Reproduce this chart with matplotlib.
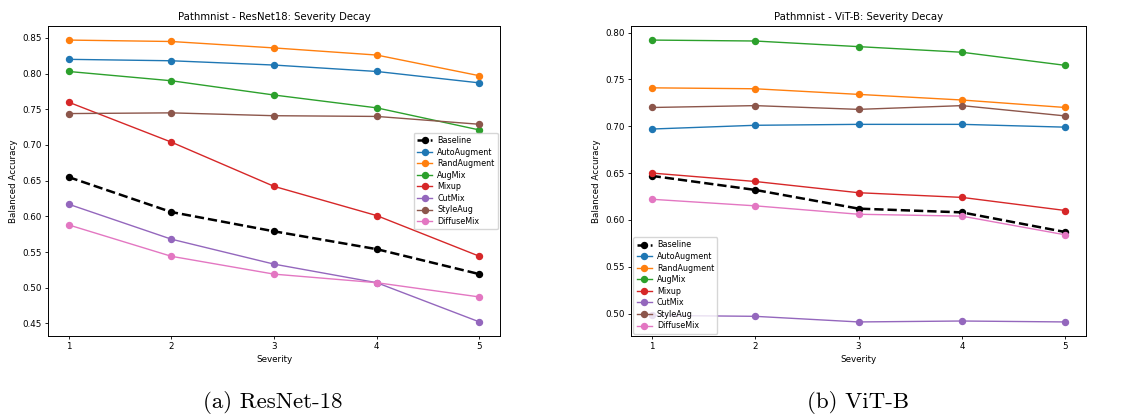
import matplotlib
matplotlib.use("Agg")
import matplotlib.pyplot as plt

severity = [1, 2, 3, 4, 5]
methods = ["Baseline", "AutoAugment", "RandAugment", "AugMix", "Mixup", "CutMix", "StyleAug", "DiffuseMix"]
colors = ["black", "#1f77b4", "#ff7f0e", "#2ca02c", "#d62728", "#9467bd", "#8c564b", "#e377c2"]

# ResNet18
resnet_baseline = [0.655, 0.606, 0.579, 0.554, 0.519]
resnet_autoaug = [0.820, 0.818, 0.812, 0.803, 0.787]
resnet_randaug = [0.847, 0.845, 0.836, 0.826, 0.797]
resnet_augmix = [0.803, 0.790, 0.770, 0.752, 0.721]
resnet_mixup = [0.760, 0.704, 0.642, 0.601, 0.544]
resnet_cutmix = [0.617, 0.568, 0.533, 0.507, 0.452]
resnet_styleaug = [0.744, 0.745, 0.741, 0.740, 0.729]
resnet_diffusemix = [0.588, 0.544, 0.519, 0.507, 0.487]

# ViT-B
vit_baseline = [0.647, 0.632, 0.612, 0.608, 0.587]
vit_autoaug = [0.697, 0.701, 0.702, 0.702, 0.699]
vit_randaug = [0.741, 0.740, 0.734, 0.728, 0.720]
vit_augmix = [0.792, 0.791, 0.785, 0.779, 0.765]
vit_mixup = [0.650, 0.641, 0.629, 0.624, 0.610]
vit_cutmix = [0.498, 0.497, 0.491, 0.492, 0.491]
vit_styleaug = [0.720, 0.722, 0.718, 0.722, 0.711]
vit_diffusemix = [0.622, 0.615, 0.606, 0.604, 0.584]

resnet = [resnet_baseline, resnet_autoaug, resnet_randaug, resnet_augmix,
          resnet_mixup, resnet_cutmix, resnet_styleaug, resnet_diffusemix]
vit = [vit_baseline, vit_autoaug, vit_randaug, vit_augmix,
       vit_mixup, vit_cutmix, vit_styleaug, vit_diffusemix]

fig = plt.figure(figsize=(11.28, 4.19), dpi=100)
ax1 = fig.add_axes([0.0426, 0.198, 0.4007, 0.740])
ax2 = fig.add_axes([0.5594, 0.198, 0.4034, 0.740])

def draw(ax, data, title, legend_loc):
    for name, vals, c in zip(methods, data, colors):
        if name == "Baseline":
            ax.plot(severity, vals, "--o", color=c, lw=1.8, ms=4.3, label=name)
        else:
            ax.plot(severity, vals, "-o", color=c, lw=1.0, ms=4.3, label=name)
    ax.set_xticks(severity)
    ax.set_title(title, fontsize=7.3, pad=4)
    ax.set_xlabel("Severity", fontsize=6.3, labelpad=3)
    ax.set_ylabel("Balanced Accuracy", fontsize=6.3, labelpad=3)
    ax.tick_params(labelsize=6.3, length=2.5, width=0.6, pad=2)
    for s in ax.spines.values():
        s.set_linewidth(0.7)
    ax.legend(loc=legend_loc, fontsize=5.8, handlelength=1.9, labelspacing=0.32,
              borderpad=0.4, handletextpad=0.6, borderaxespad=0.3, framealpha=0.8)

draw(ax1, resnet, "Pathmnist - ResNet18: Severity Decay", "center right")
draw(ax2, vit, "Pathmnist - ViT-B: Severity Decay", "lower left")

fig.text(0.242, 0.04, "(a) ResNet-18", fontfamily="cmr10", fontsize=16.5, ha="center", va="center")
fig.text(0.761, 0.04, "(b) ViT-B", fontfamily="cmr10", fontsize=16.5, ha="center", va="center")

fig.savefig("out.png", dpi=100)
